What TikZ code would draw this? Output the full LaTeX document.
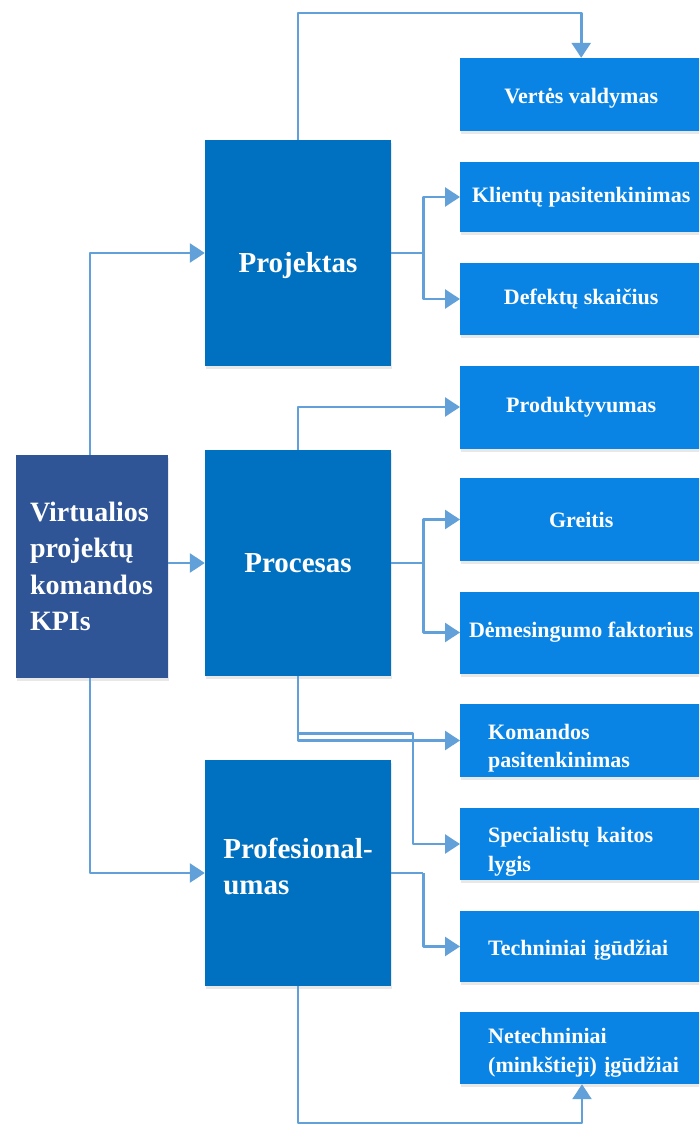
\documentclass[tikz,border=0pt]{standalone}
\usepackage{fontspec}
\setmainfont{Liberation Serif}
\usetikzlibrary{arrows.meta,shadows}
\definecolor{kpiblue}{HTML}{2F5597}
\definecolor{midblue}{HTML}{0070C0}
\definecolor{rightblue}{HTML}{0A84E4}
\definecolor{linkblue}{HTML}{62A0DA}
\tikzset{
  basebox/.style={draw=none, text=white, font=\bfseries, inner sep=0pt,
    drop shadow={shadow xshift=1pt, shadow yshift=-3pt, opacity=0.18}},
  kpibox/.style={basebox, fill=kpiblue, minimum width=152pt, minimum height=223pt,
    text width=124pt, inner xsep=14pt, align=left, font=\bfseries\fontsize{28}{36.5}\selectfont},
  midbox/.style={basebox, fill=midblue, minimum width=186pt, minimum height=226pt,
    align=center, font=\bfseries\fontsize{29}{36}\selectfont},
  midboxl/.style={midbox, align=left},
  rbox/.style={basebox, fill=rightblue, minimum width=242pt, anchor=west,
    align=center, font=\bfseries\fontsize{22}{28.5}\selectfont},
  rboxl/.style={rbox, text width=220pt, inner xsep=28pt, align=left},
  conn/.style={draw=linkblue, line width=2.6pt, line join=round,
    -{Triangle[length=15pt,width=19pt]}},
  connplain/.style={draw=linkblue, line width=2.6pt, line join=round}
}
\begin{document}
\begin{tikzpicture}[x=1pt,y=-1pt]
\clip (0,0) rectangle (699,1126);
\fill[white] (0,0) rectangle (699,1126);
% left box
\node[kpibox] (kpi) at (92,566.5) {Virtualios\\projektų\\komandos\\KPIs};
% middle boxes
\node[midbox, text height=38pt, text depth=0pt] (proj) at (298,253) {Projektas};
\node[midbox] (proc) at (298,563) {Procesas};
\node[midboxl] (prof) at (298,873) {Profesional-\\umas\rule[-14pt]{0pt}{1pt}};
% right boxes
\node[rbox, minimum height=73pt] (v1) at (460,94.5) {\rule{0pt}{22pt}Vertės valdymas};
\node[rbox, minimum height=70pt] (v2) at (460,197) {Klientų pasitenkinimas};
\node[rbox, minimum height=72pt] (v3) at (460,299) {Defektų skaičius};
\node[rbox, minimum height=83pt] (v4) at (460,407) {Produktyvumas};
\node[rbox, minimum height=83pt] (v5) at (460,519.5) {Greitis};
\node[rbox, minimum height=82pt] (v6) at (460,632.5) {Dėmesingumo faktorius};
\node[rboxl, minimum height=73pt] (v7) at (460,740.5) {\rule{0pt}{31pt}Komandos\\pasitenkinimas};
\node[rboxl, minimum height=72pt] (v8) at (460,844) {\rule{0pt}{31pt}Specialistų kaitos\\lygis};
\node[rboxl, minimum height=71pt] (v9) at (460,946.5) {\rule{0pt}{22pt}Techniniai įgūdžiai};
\node[rboxl, minimum height=72pt] (v10) at (460,1048) {\rule{0pt}{25pt}Netechniniai\\(minkštieji) įgūdžiai};
% connectors from KPI box
\draw[conn] ([xshift=-2pt]kpi.north) |- (proj.west);
\draw[conn] (kpi.east |- proc.west) -- (proc.west);
\draw[conn] ([xshift=-2pt]kpi.south) |- (prof.west);
% Projektas
\draw[conn] (proj.north) -- (proj.north |- 0,13) -| (v1.north);
\draw[connplain] (proj.east) -- ++(32,0) coordinate (pj);
\draw[conn] (pj) |- (v2.west);
\draw[conn] (pj) |- (v3.west);
% Procesas
\draw[conn] (proc.north) |- (v4.west);
\draw[connplain] (proc.east) -- ++(32,0) coordinate (pc);
\draw[conn] (pc) |- (v5.west);
\draw[conn] (pc) |- (v6.west);
\draw[conn] (proc.south) |- (v7.west);
\draw[conn] (proc.south) -- ++(0,57) -- ++(115,0) |- (v8.west);
% Profesionalumas
\draw[connplain] (prof.east) -- ++(32,0) coordinate (pf);
\draw[conn] (pf) |- (v9.west);
\draw[conn] (prof.south) -- (prof.south |- 0,1123) -| ([xshift=122pt]v10.south west);
\end{tikzpicture}
\end{document}
